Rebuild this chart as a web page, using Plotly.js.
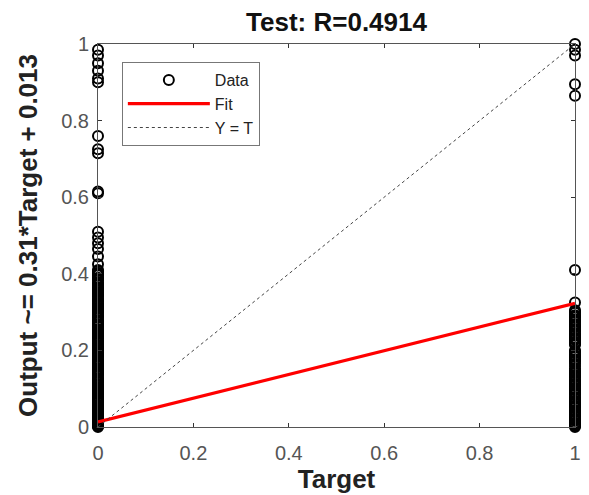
<!DOCTYPE html>
<html>
<head>
<meta charset="utf-8">
<script src="https://cdn.plot.ly/plotly-3.0.1.min.js"></script>
<style>html,body{margin:0;padding:0;background:#fff;}#chart{width:589px;height:495px;}</style>
</head>
<body>
<div id="chart"></div>
<script>
// Target = 0 outputs
var outputsAtZero = [0.985, 0.97, 0.95, 0.93, 0.91, 0.9, 0.76, 0.725, 0.715, 0.615, 0.61,
  0.51, 0.495, 0.48, 0.465, 0.445, 0.425,
  0.410, 0.403, 0.396, 0.390, 0.384, 0.377, 0.371, 0.365, 0.359, 0.352, 0.347, 0.341, 0.334,
  0.328, 0.322, 0.316, 0.309, 0.304, 0.298, 0.292, 0.286, 0.279, 0.273, 0.268, 0.262, 0.256,
  0.249, 0.243, 0.238, 0.232, 0.226, 0.219, 0.214, 0.207, 0.201, 0.195, 0.189, 0.183, 0.177,
  0.171, 0.164, 0.158, 0.153, 0.147, 0.141, 0.134, 0.128, 0.122, 0.117, 0.111, 0.104, 0.098,
  0.092, 0.086, 0.081, 0.075, 0.069, 0.063, 0.058, 0.052, 0.046, 0.041, 0.035, 0.029, 0.024,
  0.018, 0.013, 0.009, 0.004, 0.000,
  0.407, 0.399, 0.387, 0.374, 0.362, 0.356, 0.344, 0.331, 0.319, 0.312, 0.301, 0.289, 0.276,
  0.265, 0.253, 0.246, 0.235, 0.223, 0.211, 0.204, 0.192, 0.186, 0.174, 0.167, 0.161, 0.150,
  0.144, 0.137, 0.125, 0.119, 0.108, 0.101, 0.095, 0.089, 0.078, 0.072, 0.066, 0.055, 0.049,
  0.038, 0.032, 0.021, 0.015, 0.007, 0.002];
// Target = 1 outputs
var outputsAtOne = [1.0, 0.985, 0.97, 0.895, 0.865, 0.41, 0.325,
  0.305, 0.298, 0.292, 0.286, 0.280, 0.274, 0.268, 0.262, 0.256, 0.250, 0.244, 0.239, 0.233,
  0.227, 0.221, 0.215, 0.200, 0.194, 0.188, 0.183, 0.177, 0.171, 0.165, 0.153, 0.147, 0.141,
  0.136, 0.130, 0.124, 0.118, 0.113, 0.107, 0.101, 0.096, 0.090, 0.084, 0.078, 0.073, 0.067,
  0.061, 0.056, 0.050, 0.044, 0.039, 0.033, 0.027, 0.022, 0.016, 0.011, 0.005, 0.000,
  0.301, 0.289, 0.277, 0.265, 0.253, 0.241, 0.230, 0.218, 0.197, 0.185, 0.174, 0.159, 0.144,
  0.133, 0.121, 0.110, 0.098, 0.087, 0.075, 0.064, 0.053, 0.041, 0.030, 0.019, 0.008, 0.003];
var fitX = [0, 1];
var fitY = [0.013, 0.323];
var identX = [0, 1];
var identY = [0, 1];
var tickVals = [0, 0.2, 0.4, 0.6, 0.8, 1];
var tickText = ['0', '0.2', '0.4', '0.6', '0.8', '1'];

var dataX = [], dataY = [];
outputsAtZero.forEach(function(v){ dataX.push(0); dataY.push(v); });
outputsAtOne.forEach(function(v){ dataX.push(1); dataY.push(v); });

var FONT = 'Liberation Sans, Arial, sans-serif';

var traces = [
  {x: dataX, y: dataY, type: 'scatter', mode: 'markers', name: 'Data', cliponaxis: false,
   marker: {symbol: 'circle-open', size: 10, color: '#000', line: {width: 2, color: '#000'}}},
  {x: fitX, y: fitY, type: 'scatter', mode: 'lines', name: 'Fit', cliponaxis: false,
   line: {color: '#ff0000', width: 3.2}},
  {x: identX, y: identY, type: 'scatter', mode: 'lines', name: 'Y = T', cliponaxis: false,
   line: {color: '#444', width: 1, dash: 'dot'}}
];

var axisCommon = {
  range: [0, 1], tickmode: 'array', tickvals: tickVals, ticktext: tickText,
  ticks: 'inside', ticklen: 4, tickwidth: 1, tickcolor: '#333',
  showline: true, linecolor: '#555', linewidth: 1, mirror: 'ticks',
  showgrid: false, zeroline: false, fixedrange: true,
  tickfont: {family: FONT, size: 20, color: '#555'}
};

var layout = {
  width: 589, height: 495,
  margin: {l: 98, r: 14, t: 44, b: 68},
  paper_bgcolor: '#fff', plot_bgcolor: '#fff',
  showlegend: true,
  title: {text: '<b>Test: R=0.4914</b>', font: {family: FONT, size: 26, color: '#111'},
          xref: 'paper', x: 0.5, xanchor: 'center', yref: 'container', y: 0.955, yanchor: 'middle'},
  xaxis: Object.assign({}, axisCommon, {
    ticklabelstandoff: 8,
    title: {text: '<b>Target</b>', font: {family: FONT, size: 26, color: '#222'}, standoff: 6}
  }),
  yaxis: Object.assign({}, axisCommon, {
    ticklabelstandoff: 4,
    title: {text: '<b>Output ~= 0.31*Target + 0.013</b>', font: {family: FONT, size: 26, color: '#222'}, standoff: 16}
  }),
  legend: {
    x: 0.05, y: 0.953, xanchor: 'left', yanchor: 'top',
    bgcolor: '#fff', bordercolor: '#777', borderwidth: 1,
    font: {family: FONT, size: 16, color: '#222'},
    itemwidth: 82, tracegroupgap: 0
  }
};

Plotly.newPlot('chart', traces, layout, {displayModeBar: false, staticPlot: true});
</script>
</body>
</html>
